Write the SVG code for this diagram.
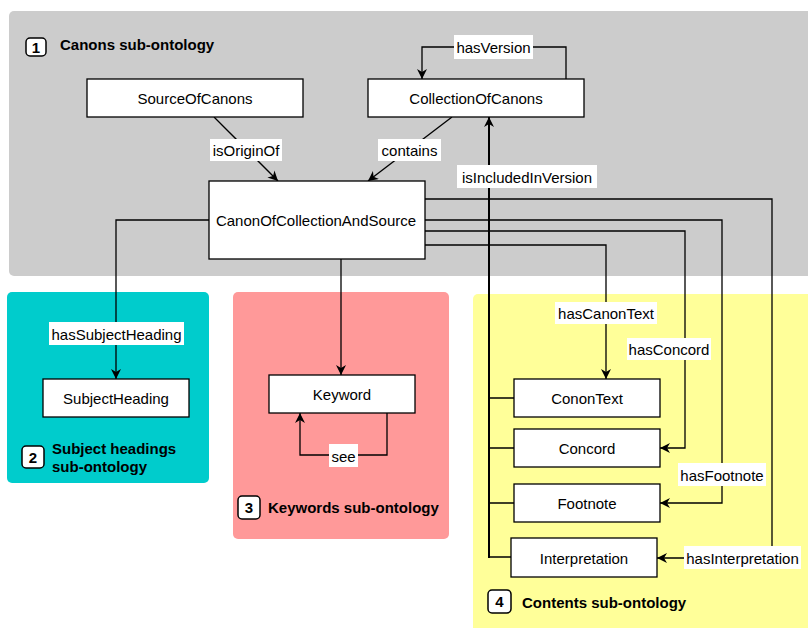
<svg xmlns="http://www.w3.org/2000/svg" width="808" height="628" viewBox="0 0 808 628">
<style>
.node rect{fill:#fff;stroke:#000;stroke-width:1.3}
.t{font-family:"Liberation Sans",Arial,sans-serif;font-size:15px;fill:#000;text-anchor:middle}
.title{font-family:"Liberation Sans",Arial,sans-serif;font-size:15px;font-weight:bold;fill:#000}
.badge rect{fill:#fff;stroke:#000;stroke-width:1.5}
.badge text{font-family:"Liberation Sans",Arial,sans-serif;font-size:15px;font-weight:bold;text-anchor:middle}
.e{fill:none;stroke:#000;stroke-width:1.3}
.lb{fill:#fff}
</style>
<defs>
<marker id="arr" viewBox="0 0 10 10" markerUnits="userSpaceOnUse" markerWidth="11" markerHeight="10" refX="10" refY="5" orient="auto">
<path d="M0,0 L10,5 L0,10 L3,5 Z" fill="#000"/>
</marker>
</defs>
<g id="panels">
<rect x="9" y="11" width="820" height="265" rx="5" fill="#CCCCCC"/>
<rect x="7" y="292" width="202" height="191" rx="5" fill="#00CCCC"/>
<rect x="233" y="292" width="216" height="247" rx="5" fill="#FF9999"/>
<rect x="473" y="294" width="360" height="360" rx="5" fill="#FFFF99"/>
</g>
<g id="titles">
<g class="badge"><rect x="26" y="38" width="20" height="18" rx="4"/><text x="36" y="52.5">1</text></g>
<text class="title" x="60" y="50">Canons sub-ontology</text>
<g class="badge"><rect x="22" y="446" width="22" height="22" rx="4"/><text x="33" y="462.5">2</text></g>
<text class="title" x="52" y="454">Subject headings</text>
<text class="title" x="52" y="472">sub-ontology</text>
<g class="badge"><rect x="238" y="496" width="22" height="23" rx="4"/><text x="249" y="513">3</text></g>
<text class="title" x="268" y="513">Keywords sub-ontology</text>
<g class="badge"><rect x="488" y="590" width="23" height="23" rx="4"/><text x="499.5" y="607">4</text></g>
<text class="title" x="522" y="608">Contents sub-ontology</text>
</g>
<g id="connectors">
<path class="e" d="M214,117 L278,181" marker-end="url(#arr)"/>
<path class="e" d="M452,117 L368,181" marker-end="url(#arr)"/>
<path class="e" d="M566,79 V47 H422 V79" marker-end="url(#arr)"/>
<path class="e" style="stroke-width:2" d="M489,558 V117" marker-end="url(#arr)"/>
<path class="e" d="M489,398 H514 M489,448 H514 M489,503 H514 M489,557 H511"/>
<path class="e" d="M209,220 H116 V379" marker-end="url(#arr)"/>
<path class="e" d="M341,259 V375" marker-end="url(#arr)"/>
<path class="e" d="M387,413 V455 H300 V413" marker-end="url(#arr)"/>
<path class="e" d="M425,245 H606 V379" marker-end="url(#arr)"/>
<path class="e" d="M425,231 H685 V448 H660" marker-end="url(#arr)"/>
<path class="e" d="M425,220 H722 V503 H660" marker-end="url(#arr)"/>
<path class="e" d="M425,199 H772 V558 H657" marker-end="url(#arr)"/>
</g>
<g id="edge-labels">
<rect class="lb" x="210" y="139" width="72" height="22"/><text class="t" x="246" y="155.5">isOriginOf</text>
<rect class="lb" x="378" y="139" width="63" height="22"/><text class="t" x="409.5" y="155.5">contains</text>
<rect class="lb" x="454" y="35" width="79" height="24"/><text class="t" x="493.5" y="52.5">hasVersion</text>
<rect class="lb" x="457" y="165" width="140" height="23"/><text class="t" x="527" y="182.5">isIncludedInVersion</text>
<rect class="lb" x="49" y="322" width="135" height="23"/><text class="t" x="116.5" y="339.5">hasSubjectHeading</text>
<rect class="lb" x="329" y="444" width="29" height="23"/><text class="t" x="343.5" y="461.5">see</text>
<rect class="lb" x="555" y="302" width="102" height="22"/><text class="t" x="606" y="318.5">hasCanonText</text>
<rect class="lb" x="627" y="338" width="84" height="22"/><text class="t" x="669" y="354.5">hasConcord</text>
<rect class="lb" x="678" y="463" width="88" height="23"/><text class="t" x="722" y="480.5">hasFootnote</text>
<rect class="lb" x="684" y="546" width="117" height="23"/><text class="t" x="742.5" y="563.5">hasInterpretation</text>
</g>
<g id="SourceOfCanons" class="node"><rect x="87" y="79" width="216" height="38"/><text class="t" x="195" y="103.5">SourceOfCanons</text></g>
<g id="CollectionOfCanons" class="node"><rect x="368" y="79" width="216" height="38"/><text class="t" x="476" y="103.5">CollectionOfCanons</text></g>
<g id="CanonOfCollectionAndSource" class="node"><rect x="209" y="181" width="216" height="78"/><text class="t" x="316" y="225.5">CanonOfCollectionAndSource</text></g>
<g id="SubjectHeading" class="node"><rect x="43" y="379" width="146" height="38"/><text class="t" x="116" y="403.5">SubjectHeading</text></g>
<g id="Keyword" class="node"><rect x="269" y="375" width="146" height="38"/><text class="t" x="342" y="399.5">Keyword</text></g>
<g id="CononText" class="node"><rect x="514" y="379" width="146" height="38"/><text class="t" x="587" y="403.5">CononText</text></g>
<g id="Concord" class="node"><rect x="514" y="429" width="146" height="38"/><text class="t" x="587" y="453.5">Concord</text></g>
<g id="Footnote" class="node"><rect x="514" y="484" width="146" height="38"/><text class="t" x="587" y="508.5">Footnote</text></g>
<g id="Interpretation" class="node"><rect x="511" y="538" width="146" height="39"/><text class="t" x="584" y="563.5">Interpretation</text></g>
</svg>
